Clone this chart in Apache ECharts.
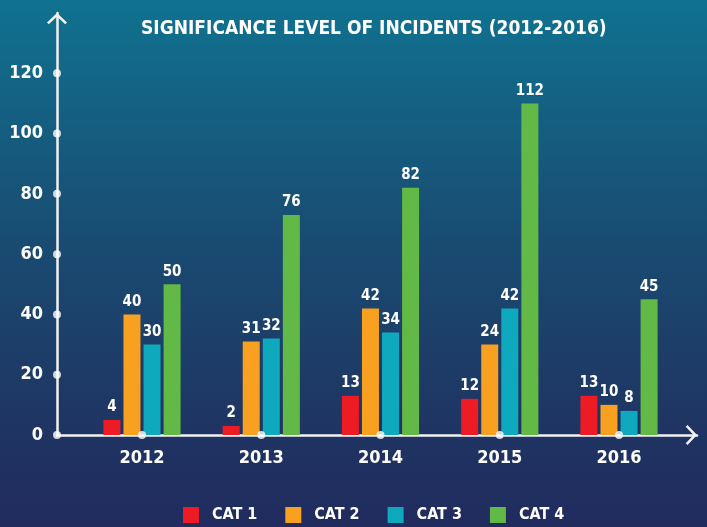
<!DOCTYPE html>
<html>
<head>
<meta charset="utf-8">
<script src="https://cdn.jsdelivr.net/npm/echarts@6/dist/echarts.min.js"></script>
<style>html,body{margin:0;padding:0;}#c{width:707px;height:527px;}</style>
</head>
<body>
<div id="c"></div>
<script>
// ---- data ----
var years = ['2012', '2013', '2014', '2015', '2016'];
var seriesNames = ['CAT 1', 'CAT 2', 'CAT 3', 'CAT 4'];
// printed value labels
var cat1Labels = [4, 2, 13, 12, 13];
var cat2Labels = [40, 31, 42, 24, 10];
var cat3Labels = [30, 32, 34, 42, 8];
var cat4Labels = [50, 76, 82, 112, 45];
// bar heights as drawn
var cat1Bars = [5, 3, 13, 12, 13];
var cat2Bars = [40, 31, 42, 30, 10];
var cat3Bars = [30, 32, 34, 42, 8];
var cat4Bars = [50, 73, 82, 110, 45];
var yTicks = [0, 20, 40, 60, 80, 100, 120];

var colors = ['#ED1C24', '#F8A01F', '#0FA9BE', '#62B946'];
var FONT = "'DejaVu Sans Condensed', 'Liberation Sans', sans-serif";
var X_MIN = -0.7128, X_MAX = 4.654;
var Y_MAX = 140;

var labelsAll = [cat1Labels, cat2Labels, cat3Labels, cat4Labels];
var barsAll = [cat1Bars, cat2Bars, cat3Bars, cat4Bars];

var chart = echarts.init(document.getElementById('c'));
var arrowPath = 'path://M0,9.5 L10,0 L20,9.5 L18.2,11.3 L10,3.5 L1.8,11.3 Z';

var series = seriesNames.map(function (name, si) {
  return {
    name: name,
    type: 'bar',
    barWidth: 17,
    barGap: '18%',
    itemStyle: { color: colors[si] },
    label: {
      show: true,
      position: 'top',
      distance: 5,
      color: '#ffffff',
      fontFamily: FONT,
      fontWeight: 'bold',
      fontSize: 15,
      formatter: function (p) { return String(labelsAll[si][p.dataIndex]); }
    },
    data: barsAll[si].map(function (v, i) { return [i, v]; })
  };
});

var dots = [];
yTicks.forEach(function (t) { dots.push([X_MIN, t]); });
years.forEach(function (y, i) { dots.push([i, 0]); });
series.push({
  type: 'scatter',
  symbol: 'circle',
  symbolSize: 8,
  itemStyle: { color: '#ffffff' },
  z: 10,
  silent: true,
  data: dots
});

chart.setOption({
  backgroundColor: new echarts.graphic.LinearGradient(0, 0, 0, 1, [
    { offset: 0, color: '#107290' },
    { offset: 0.45, color: '#194C72' },
    { offset: 0.8, color: '#1F3563' },
    { offset: 1, color: '#212B5E' }
  ]),
  animation: false,
  title: {
    text: 'SIGNIFICANCE LEVEL OF INCIDENTS (2012-2016)',
    left: 136,
    top: 15,
    textStyle: { color: '#ffffff', fontFamily: FONT, fontWeight: 'bold', fontSize: 19 }
  },
  legend: {
    data: seriesNames,
    left: 183,
    top: 507,
    padding: 0,
    icon: 'rect',
    itemWidth: 16,
    itemHeight: 16,
    itemGap: 28,
    textStyle: { color: '#ffffff', fontFamily: FONT, fontWeight: 'bold', fontSize: 16, padding: [0, 0, 0, 8] }
  },
  grid: { left: 57, right: 10, top: 13, bottom: 92, containLabel: false },
  xAxis: {
    type: 'value',
    min: X_MIN,
    max: X_MAX,
    splitLine: { show: false },
    axisTick: { show: false },
    axisLine: {
      show: true,
      lineStyle: { color: '#F2F2F2', width: 2.5 },
      symbol: ['none', arrowPath],
      symbolSize: [20, 11.3],
      symbolOffset: [0, -5.6]
    },
    axisLabel: {
      customValues: [0, 1, 2, 3, 4],
      formatter: function (v) { return years[Math.round(v)]; },
      color: '#ffffff',
      fontFamily: FONT,
      fontWeight: 'bold',
      fontSize: 18,
      margin: 14
    }
  },
  yAxis: {
    type: 'value',
    min: 0,
    max: Y_MAX,
    interval: 20,
    splitLine: { show: false },
    axisTick: { show: false },
    axisLine: {
      show: true,
      onZero: false,
      lineStyle: { color: '#F2F2F2', width: 2.5 },
      symbol: ['none', arrowPath],
      symbolSize: [20, 11.3],
      symbolOffset: [0, -5.6]
    },
    axisLabel: {
      customValues: yTicks,
      color: '#ffffff',
      fontFamily: FONT,
      fontWeight: 'bold',
      fontSize: 18,
      margin: 14
    }
  },
  series: series
});
</script>
</body>
</html>
